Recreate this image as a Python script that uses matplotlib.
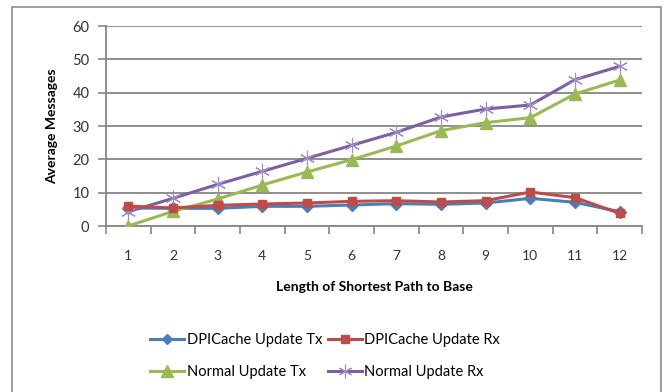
import matplotlib
matplotlib.use("Agg")
import matplotlib.pyplot as plt
from matplotlib.patches import Rectangle

plt.rcParams["font.family"] = ["Lato", "DejaVu Sans"]

# Data
path_length = [1, 2, 3, 4, 5, 6, 7, 8, 9, 10, 11, 12]
dpi_tx = [5.4, 5.3, 5.3, 5.9, 5.9, 6.3, 6.7, 6.5, 6.9, 8.3, 7.1, 4.3]
dpi_rx = [6.0, 5.4, 6.2, 6.6, 6.9, 7.4, 7.6, 7.2, 7.6, 10.2, 8.5, 3.8]
normal_tx = [0.0, 4.4, 8.1, 12.3, 16.2, 19.9, 24.0, 28.6, 31.0, 32.5, 39.6, 43.8]
normal_rx = [4.3, 8.3, 12.5, 16.4, 20.3, 24.2, 28.1, 32.7, 35.1, 36.3, 43.9, 47.9]

y_ticks = [0, 10, 20, 30, 40, 50, 60]

BLUE = "#4a7ebb"
RED = "#be4b48"
GREEN = "#98b954"
PURPLE = "#7d60a0"
GRID = "#868686"

fig = plt.figure(figsize=(6.64, 3.92), dpi=100)
ax = fig.add_axes([106 / 664, 1 - 226 / 392, 536 / 664, 200 / 392])

# chart-area border
fig.patches.append(Rectangle((12 / 664, -0.05), 649 / 664, 1 - 7 / 392 + 0.05,
                             transform=fig.transFigure, fill=False,
                             edgecolor="#8c8c8c", linewidth=1.2))

l1, = ax.plot(path_length, dpi_tx, color=BLUE, lw=2.2, marker="D", ms=6,
              label="DPICache Update Tx", zorder=4)
l2, = ax.plot(path_length, dpi_rx, color=RED, lw=2.2, marker="s", ms=6,
              label="DPICache Update Rx", zorder=5)
l3, = ax.plot(path_length, normal_tx, color=GREEN, lw=2.2, marker="^", ms=9,
              label="Normal Update Tx", zorder=4)
l4, = ax.plot(path_length, normal_rx, color=PURPLE, lw=2.2, marker=(6, 2, 0),
              ms=11, mew=0.8, mec="#a08cc8", label="Normal Update Rx", zorder=4)

ax.set_xlim(0.5, 12.5)
ax.set_ylim(0, 60)
ax.set_yticks(y_ticks)
ax.yaxis.grid(True, color=GRID, lw=1.3)
ax.set_axisbelow(True)

# category ticks between labels, labels at centres
ax.set_xticks([i + 0.5 for i in range(0, 13)])
ax.set_xticklabels([])
ax.set_xticks(path_length, minor=True)
ax.set_xticklabels([str(p) for p in path_length], minor=True)
ax.tick_params(axis="x", which="major", length=6, color=GRID, width=1.2)
ax.tick_params(axis="x", which="minor", length=0, pad=17, labelsize=10,
               labelcolor="#333333")
ax.tick_params(axis="y", length=6, color=GRID, width=1.2, labelsize=10.5,
               labelcolor="#333333", pad=6)

for side in ("top", "right"):
    ax.spines[side].set_visible(False)
for side in ("left", "bottom"):
    ax.spines[side].set_color(GRID)
    ax.spines[side].set_linewidth(1.3)

ax.set_ylabel("Average Messages", fontsize=10, fontweight="bold", labelpad=10)
ax.set_xlabel("Length of Shortest Path to Base", fontsize=10,
              fontweight="bold", labelpad=14)

fig.legend([l1, l3, l2, l4],
           [l1.get_label(), l3.get_label(), l2.get_label(), l4.get_label()],
           ncol=2, frameon=False, loc="center left",
           bbox_to_anchor=(143 / 664, 1 - 356 / 392), borderpad=0,
           handlelength=2.3, handletextpad=0.2, columnspacing=0.4,
           labelspacing=1.2, fontsize=10.5, markerscale=0.9)

fig.savefig("out.png", dpi=100)
